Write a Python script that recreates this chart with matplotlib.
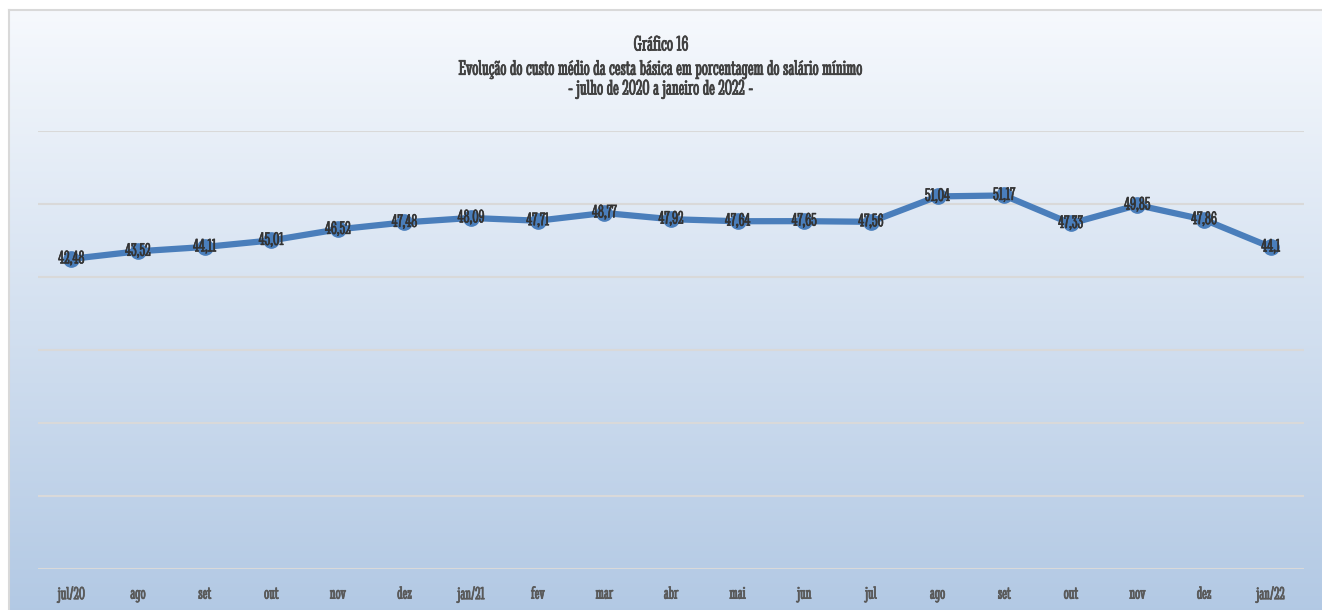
import matplotlib.pyplot as plt
import matplotlib.patheffects as pe
import numpy as np

# dados
meses = ['jul/20', 'ago', 'set', 'out', 'nov', 'dez', 'jan/21', 'fev', 'mar', 'abr',
         'mai', 'jun', 'jul', 'ago', 'set', 'out', 'nov', 'dez', 'jan/22']
valores = [42.48, 43.52, 44.11, 45.01, 46.52, 47.48, 48.09, 47.71, 48.77, 47.92,
           47.64, 47.65, 47.56, 51.04, 51.17, 47.33, 49.85, 47.86, 44.1]
rotulos = ['42,48', '43,52', '44,11', '45,01', '46,52', '47,48', '48,09', '47,71', '48,77', '47,92',
           '47,64', '47,65', '47,56', '51,04', '51,17', '47,33', '49,85', '47,86', '44,1']


def negrito(cor, lw=0.5):
    return [pe.withStroke(linewidth=lw, foreground=cor)]


fonte = ['Stint Ultra Condensed', 'DejaVu Serif']

fig = plt.figure(figsize=(13.22, 6.10), dpi=100)
fig.patch.set_facecolor('white')

# fundo em gradiente
bg = fig.add_axes([9 / 1322, 0, 1 - 9 / 1322, 1 - 10 / 610])
grad = np.linspace(0, 1, 256).reshape(-1, 1)
top = np.array([0.965, 0.976, 0.992])
bot = np.array([0.700, 0.788, 0.894])
img = top[None, None, :] * (1 - grad[:, :, None]) + bot[None, None, :] * grad[:, :, None]
bg.imshow(img, aspect='auto', extent=[0, 1, 0, 1])
bg.set_xlim(0, 1)
bg.set_ylim(0, 1)
bg.set_xticks([])
bg.set_yticks([])
for s in ['right', 'bottom']:
    bg.spines[s].set_visible(False)
for s in ['left', 'top']:
    bg.spines[s].set_color('#d9d9d9')
    bg.spines[s].set_linewidth(1.5)

ax = fig.add_axes([38 / 1322, 1 - 569 / 610, (1304 - 38) / 1322, (569 - 131) / 610])
ax.patch.set_alpha(0)
x = np.arange(len(meses)) + 0.5
ax.plot(x, valores, color='#4a7ebb', linewidth=4.5, marker='o', markersize=11,
        markerfacecolor='#4a7ebb', markeredgecolor='#4a7ebb', zorder=3)
for xi, v, r in zip(x, valores, rotulos):
    ax.text(xi, v, r, ha='center', va='center', fontsize=13.5, color='#333333', zorder=4,
            family=fonte, path_effects=negrito('#333333', 0.4))

ax.set_xlim(0, len(meses))
ax.set_ylim(0, 60)
ax.set_yticks(np.arange(0, 61, 10))
ax.yaxis.grid(True, color='#d9d9d9', linewidth=1.5)
ax.set_axisbelow(True)
ax.set_yticklabels([])
ax.tick_params(axis='y', length=0)
ax.set_xticks(x)
ax.set_xticklabels(meses, color='#595959', fontsize=13, family=fonte)
for t in ax.get_xticklabels():
    t.set_path_effects(negrito('#595959'))
ax.tick_params(axis='x', length=0, pad=12)
for s in ax.spines.values():
    s.set_visible(False)

titulo = ['Gráfico 16',
          'Evolução do custo médio da cesta básica em porcentagem do salário mínimo',
          '- julho de 2020 a janeiro de 2022 -']
for yy, t in zip([45, 69, 89], titulo):
    fig.text(0.5, 1 - yy / 610, t, ha='center', va='center', fontsize=15.6, color='#404040',
             family=fonte, path_effects=negrito('#404040'))

fig.savefig('out.png', dpi=100)
